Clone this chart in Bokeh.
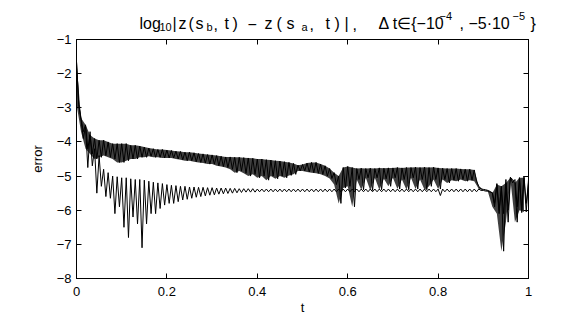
from bokeh.plotting import figure
from bokeh.models import Range1d, LinearAxis, FixedTicker, Label
from bokeh.layouts import column
from bokeh.embed import file_html
from bokeh.resources import INLINE

# ---------------- data ----------------
# samples every 0.01 in t; each step holds a local maximum (at t) and a
# local minimum (at t + 0.005) of the oscillating error curve
t_step = 0.01

# series 1: the upper band (oscillation maxima / minima)
upper_hi = [-1.65, -3.30, -3.50, -3.80, -3.90, -3.95, -3.95, -4.00, -4.05, -4.05,
            -4.05, -4.05, -4.10, -4.10, -4.12, -4.15, -4.18, -4.20, -4.22, -4.22,
            -4.24, -4.25, -4.27, -4.28, -4.30, -4.30, -4.32, -4.34, -4.35, -4.37,
            -4.38, -4.40, -4.42, -4.44, -4.44, -4.45, -4.45, -4.46, -4.47, -4.48,
            -4.50, -4.50, -4.52, -4.53, -4.55, -4.56, -4.58, -4.60, -4.63, -4.68,
            -4.66, -4.62, -4.60, -4.60, -4.65, -4.70, -4.78, -4.90, -5.00, -4.75,
            -4.72, -4.75, -4.78, -4.77, -4.78, -4.77, -4.78, -4.76, -4.77, -4.76,
            -4.76, -4.75, -4.76, -4.75, -4.75, -4.74, -4.75, -4.74, -4.75, -4.74,
            -4.76, -4.77, -4.78, -4.78, -4.78, -4.79, -4.80, -4.80, -4.82, -5.30,
            -5.39, -5.42, -5.50, -5.25, -5.30, -5.20, -5.05, -5.20, -5.05, -5.05]
upper_lo = [-2.90, -3.70, -4.20, -4.35, -4.50, -4.45, -4.40, -4.45, -4.50, -4.60,
            -4.60, -4.55, -4.50, -4.50, -4.45, -4.45, -4.42, -4.45, -4.45, -4.47,
            -4.47, -4.47, -4.50, -4.52, -4.55, -4.55, -4.58, -4.60, -4.62, -4.65,
            -4.65, -4.70, -4.72, -4.75, -4.80, -4.90, -4.85, -4.92, -5.00, -4.95,
            -5.05, -5.00, -5.12, -5.00, -5.08, -5.00, -5.05, -4.98, -4.95, -4.85,
            -4.85, -4.88, -4.90, -4.92, -4.95, -5.00, -5.07, -5.25, -5.80, -5.35,
            -5.30, -5.90, -5.10, -5.40, -5.05, -5.42, -5.05, -5.40, -5.08, -5.30,
            -5.05, -5.38, -5.10, -5.40, -5.05, -5.38, -5.10, -5.40, -5.30, -5.10,
            -5.38, -5.10, -5.20, -5.12, -5.15, -5.10, -5.15, -5.12, -5.15, -5.38,
            -5.40, -5.45, -5.90, -6.10, -7.20, -6.35, -5.10, -6.35, -6.00, -6.05]
upper_end = -5.10

# series 2: the lower band
lower_hi = [-1.65, -3.35, -3.55, -3.70, -4.20, -4.40, -4.80, -4.90, -5.00, -5.02,
            -5.05, -5.05, -5.08, -5.10, -5.10, -5.12, -5.15, -5.18, -5.20, -5.22,
            -5.25, -5.27, -5.28, -5.30, -5.30, -5.32, -5.32, -5.33, -5.33, -5.34,
            -5.34, -5.35, -5.35, -5.35, -5.36, -5.36, -5.37, -5.37, -5.37, -5.37,
            -5.38, -5.38, -5.38, -5.38, -5.38, -5.38, -5.38, -5.38, -5.38, -5.38,
            -5.38, -5.38, -5.38, -5.38, -5.38, -5.38, -5.38, -5.38, -5.38, -5.38,
            -5.38, -5.38, -5.38, -5.38, -5.38, -5.38, -5.38, -5.38, -5.38, -5.38,
            -5.38, -5.38, -5.38, -5.38, -5.38, -5.38, -5.38, -5.38, -5.38, -5.38,
            -5.38, -5.38, -5.38, -5.38, -5.38, -5.38, -5.38, -5.38, -5.38, -5.38,
            -5.42, -5.44, -5.48, -5.22, -5.35, -5.10, -5.03, -5.10, -5.05, -5.00]
lower_lo = [-2.90, -3.90, -4.75, -4.70, -5.50, -5.30, -5.60, -5.65, -6.10, -5.90,
            -6.50, -6.80, -6.20, -6.40, -7.10, -6.40, -6.10, -6.10, -5.95, -5.85,
            -5.80, -5.80, -5.75, -5.70, -5.68, -5.65, -5.62, -5.60, -5.58, -5.56,
            -5.55, -5.53, -5.52, -5.51, -5.50, -5.49, -5.48, -5.47, -5.47, -5.47,
            -5.46, -5.46, -5.46, -5.46, -5.46, -5.46, -5.46, -5.46, -5.46, -5.46,
            -5.46, -5.46, -5.46, -5.46, -5.46, -5.46, -5.46, -5.46, -5.46, -5.46,
            -5.46, -5.46, -5.46, -5.46, -5.46, -5.46, -5.46, -5.46, -5.46, -5.46,
            -5.46, -5.46, -5.46, -5.46, -5.46, -5.46, -5.46, -5.46, -5.46, -5.46,
            -5.57, -5.46, -5.46, -5.46, -5.46, -5.46, -5.46, -5.46, -5.46, -5.42,
            -5.44, -5.47, -5.80, -6.00, -6.10, -6.00, -5.20, -5.90, -6.07, -5.80]
lower_end = -5.20

x_ticks = [0, 0.2, 0.4, 0.6, 0.8, 1]
x_tick_labels = ["0", "0.2", "0.4", "0.6", "0.8", "1"]
y_ticks = [-8, -7, -6, -5, -4, -3, -2, -1]
y_tick_labels = ["\u22128", "\u22127", "\u22126", "\u22125", "\u22124", "\u22123", "\u22122", "\u22121"]

# title, piece by piece (sub- and superscripts), with the left edge (pixels)
# of each piece as measured on the reference
title_parts = [
    ("log", "main", 139), ("10", "sub", 159),
    ("|", "main", 172), ("z", "main", 178), ("(", "main", 188), ("s", "main", 195),
    ("b", "sub", 206),
    (",", "main", 213), ("t", "main", 224), (")", "main", 232), ("\u2212", "main", 247),
    ("z", "main", 264), ("(", "main", 276), ("s", "main", 286), ("a", "sub", 301),
    (",", "main", 309), ("t", "main", 325), (")", "main", 334), ("|", "main", 344),
    (",", "main", 352),
    ("\u0394 t\u2208{\u221210", "main", 378), ("\u22124", "sup", 439),
    (", \u22125\u00b710", "main", 459), ("\u22125", "sup", 512), ("}", "main", 530),
]


def zigzag(hi, lo, end):
    ts, ys = [], []
    for k, (h, l) in enumerate(zip(hi, lo)):
        ts += [k * t_step, k * t_step + t_step / 2]
        ys += [h, l]
    ts.append(len(hi) * t_step)
    ys.append(end)
    return ts, ys


FONT = "Liberation Sans"
W = 576
TITLE_H = 32
FRAME_L, FRAME_R, FRAME_T = 76, 528, 39

# ---------------- title strip ----------------
tfig = figure(width=W, height=TITLE_H, output_backend="svg", toolbar_location=None,
              x_range=Range1d(0, W), y_range=Range1d(TITLE_H, 0),
              min_border=0, min_border_left=0, min_border_right=0,
              min_border_top=0, min_border_bottom=0)
aligned_title = True
try:
    tfig.frame_align = False
    aligned_title = False
except Exception:
    pass
if aligned_title:
    # frame of the strip gets aligned with the plot frame: map page x onto it
    tfig.x_range = Range1d(FRAME_L, FRAME_R)
tfig.axis.visible = False
tfig.grid.visible = False
tfig.outline_line_color = None
role_y = {"main": 23, "sub": 26.5, "sup": 15}
role_fs = {"main": "16px", "sub": "11px", "sup": "11px"}
for txt, role, tx in title_parts:
    tfig.add_layout(Label(x=tx, y=role_y[role], x_units="data", y_units="data",
                          text=txt, text_font=FONT, text_font_size=role_fs[role],
                          text_color="black", text_baseline="alphabetic",
                          text_align="left"))

# ---------------- main plot ----------------
p = figure(width=W, height=318 - TITLE_H, output_backend="svg", toolbar_location=None,
           x_range=Range1d(0, 1), y_range=Range1d(-8, -1),
           min_border_left=FRAME_L, min_border_right=W - FRAME_R,
           min_border_top=FRAME_T - TITLE_H, min_border_bottom=40)
p.xgrid.visible = False
p.ygrid.visible = False
p.outline_line_color = "black"
p.outline_line_width = 1

# dense upper band: shade between its maxima and minima
t_grid = [k * t_step for k in range(len(upper_hi))]
p.varea(x=t_grid, y1=upper_hi, y2=upper_lo, fill_color="black", fill_alpha=0.75)

for (hi, lo, end) in [(upper_hi, upper_lo, upper_end), (lower_hi, lower_lo, lower_end)]:
    ts, ys = zigzag(hi, lo, end)
    p.line(ts, ys, line_color="black", line_width=1)


def style_axis(ax, ticks, labels, show_labels=True):
    ax.ticker = FixedTicker(ticks=ticks)
    ax.major_label_overrides = {tk: lb for tk, lb in zip(ticks, labels)}
    ax.minor_tick_line_color = None
    ax.major_tick_in = 5
    ax.major_tick_out = 0
    ax.axis_line_color = "black"
    ax.major_tick_line_color = "black"
    ax.major_label_text_font = FONT
    ax.axis_label_text_font = FONT
    ax.axis_label_text_font_size = "13px"
    ax.axis_label_text_font_style = "normal"
    ax.axis_label_text_color = "black"
    if show_labels:
        ax.major_label_text_font_size = "13px"
        ax.major_label_text_color = "black"
    else:
        ax.major_label_text_font_size = "1px"
        ax.major_label_text_color = None
        ax.major_label_standoff = 0


style_axis(p.xaxis[0], x_ticks, x_tick_labels)
p.xaxis[0].axis_label = "t"
p.xaxis[0].major_label_standoff = 8
p.xaxis[0].axis_label_standoff = 1

style_axis(p.yaxis[0], y_ticks, y_tick_labels)
p.yaxis[0].axis_label = "error"
p.yaxis[0].major_label_standoff = 5
p.yaxis[0].axis_label_standoff = 9

top_ax = LinearAxis()
style_axis(top_ax, x_ticks, x_tick_labels, show_labels=False)
p.add_layout(top_ax, "above")

right_ax = LinearAxis()
style_axis(right_ax, y_ticks, y_tick_labels, show_labels=False)
p.add_layout(right_ax, "right")

layout = column(tfig, p, spacing=0)
open("out.html", "w").write(file_html(layout, INLINE))
